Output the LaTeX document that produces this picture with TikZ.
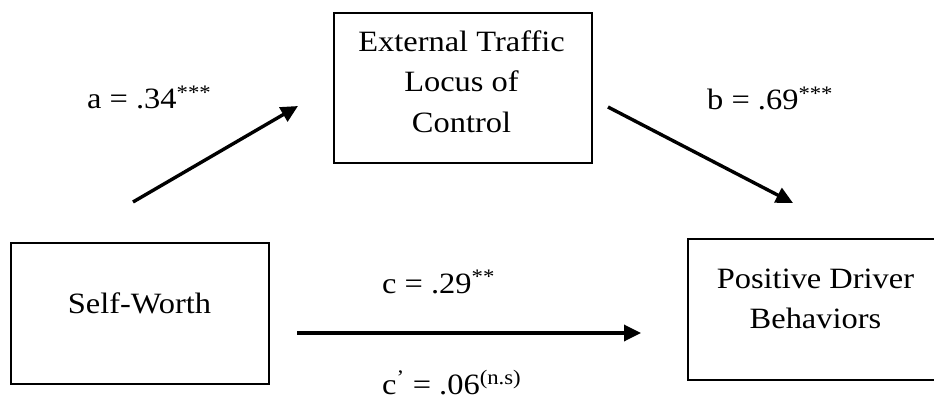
\documentclass[tikz,border=0pt]{standalone}
\usepackage{fontspec}
\setmainfont{Liberation Serif}[FakeStretch=1.1]
\usetikzlibrary{arrows.meta}
\begin{document}
\begin{tikzpicture}[x=1pt,y=-1pt,
  box/.style={draw=black,line width=2pt,inner sep=0pt,anchor=north west},
  txt/.style={inner sep=0pt,anchor=base,font=\fontsize{29.5}{40}\selectfont},
  lbl/.style={inner sep=0pt,anchor=base west,font=\fontsize{29.5}{40}\selectfont},
  path/.style={line width=3.4pt,-{Triangle[length=17pt,width=16pt]}}]
\useasboundingbox (0,0) rectangle (934,401);
% boxes
\node[box,minimum width=258pt,minimum height=150pt] (med) at (333,12) {};
\node[box,minimum width=258pt,minimum height=141pt] (iv) at (10,242) {};
\node[box,minimum width=260pt,minimum height=141pt] (dv) at (687,238) {};
% box texts
\node[txt] (m1) at (461.5,52) {External Traffic};
\node[txt] (m2) at (461.5,92) {Locus of};
\node[txt] (m3) at (461.5,132) {Control};
\node[txt] (i1) at (139.5,313) {Self-Worth};
\node[txt] (d1) at (815.5,288) {Positive Driver};
\node[txt] (d2) at (815.5,328) {Behaviors};
% connector ends
\coordinate (as) at (133,202);
\coordinate (ae) at (298,106);
\coordinate (bs) at (608,107);
\coordinate (be) at (793,203);
\coordinate (cs) at (297,333);
\coordinate (ce) at (641,333);
\draw[path] (as) -- (ae);
\draw[path] (bs) -- (be);
\draw[path] (cs) -- (ce);
% labels
\node[lbl] (la) at (87,109) {a = .34\textsuperscript{***}};
\node[lbl] (lb) at (707,110) {b = .69\textsuperscript{***}};
\node[lbl] (lc) at (382,293) {c = .29\textsuperscript{**}};
\node[lbl] (lcp) at (382,394) {c\textsuperscript{'} = .06\textsuperscript{(n.s)}};
\end{tikzpicture}
\end{document}
